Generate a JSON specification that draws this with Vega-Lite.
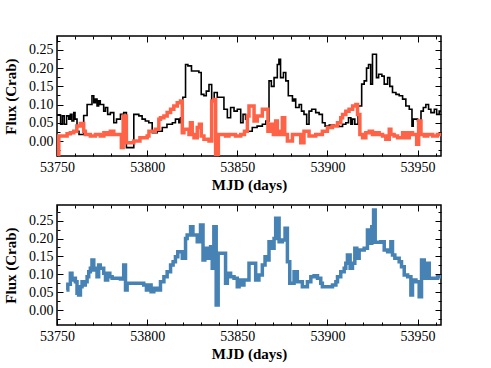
{
  "$schema": "https://vega.github.io/schema/vega-lite/v6.json",
  "padding": {"left": 2, "top": 32, "right": 5, "bottom": 2},
  "background": "white",
  "config": {
    "font": "Liberation Serif",
    "view": {"stroke": "black", "strokeWidth": 1.5},
    "axis": {
      "domain": false, "grid": false, "tickColor": "black", "tickWidth": 1,
      "labelColor": "black", "titleColor": "black",
      "labelFont": "Liberation Serif", "labelFontSize": 14,
      "titleFont": "Liberation Serif", "titleFontSize": 15, "titleFontWeight": "bold",
      "labelOverlap": false, "labelFlush": false, "labelBound": false
    }
  },
  "datasets": {
    "black": [
      {"d":53750,"v":0.071},{"d":53752,"v":0.046},{"d":53753,"v":0.069},{"d":53754,"v":0.046},{"d":53755.3,"v":0.069},{"d":53756.5,"v":0.06},{"d":53757.4,"v":0.073},{"d":53758.3,"v":0.055},{"d":53759.3,"v":0.078},{"d":53760,"v":0.06},{"d":53761.1,"v":0.027},{"d":53762.2,"v":0.018},{"d":53764.8,"v":0.07},{"d":53766.7,"v":0.1},{"d":53769.4,"v":0.124},{"d":53770.4,"v":0.105},{"d":53771.3,"v":0.115},{"d":53772.2,"v":0.096},{"d":53773.1,"v":0.11},{"d":53774,"v":0.1},{"d":53775.9,"v":0.082},{"d":53776.9,"v":0.092},{"d":53778.1,"v":0.073},{"d":53779.6,"v":0.078},{"d":53781.5,"v":0.05},{"d":53783,"v":0.06},{"d":53785.2,"v":0.073},{"d":53787,"v":0.078},{"d":53788.5,"v":-0.018},{"d":53792.6,"v":0.073},{"d":53795.4,"v":0.069},{"d":53797.2,"v":0.06},{"d":53799,"v":0.055},{"d":53800.9,"v":0.05},{"d":53802.8,"v":0.023},{"d":53805.6,"v":0.027},{"d":53808.4,"v":0.037},{"d":53811,"v":0.046},{"d":53814,"v":0.05},{"d":53815.7,"v":0.06},{"d":53817.6,"v":0.05},{"d":53818.5,"v":0.064},{"d":53819.8,"v":0.12},{"d":53821.3,"v":0.21},{"d":53822.6,"v":0.206},{"d":53824.6,"v":0.192},{"d":53828.7,"v":0.188},{"d":53830,"v":0.128},{"d":53831.5,"v":0.124},{"d":53832.8,"v":0.137},{"d":53834.3,"v":0.155},{"d":53835.8,"v":0.11},{"d":53837.2,"v":0.133},{"d":53838.9,"v":0.12},{"d":53842.6,"v":0.087},{"d":53844.5,"v":0.064},{"d":53846.3,"v":0.092},{"d":53848.2,"v":0.082},{"d":53850,"v":0.087},{"d":53851.9,"v":0.05},{"d":53853.2,"v":0.073},{"d":53854.6,"v":0.06},{"d":53855.6,"v":0.027},{"d":53858.3,"v":0.037},{"d":53861,"v":0.041},{"d":53863.9,"v":0.046},{"d":53865.8,"v":0.055},{"d":53867.6,"v":0.165},{"d":53868.9,"v":0.15},{"d":53870.4,"v":0.174},{"d":53872.2,"v":0.21},{"d":53873.1,"v":0.224},{"d":53874,"v":0.174},{"d":53875.6,"v":0.188},{"d":53876.9,"v":0.165},{"d":53878.3,"v":0.124},{"d":53880.6,"v":0.11},{"d":53881.5,"v":0.115},{"d":53882.4,"v":0.092},{"d":53884.3,"v":0.1},{"d":53885.6,"v":0.082},{"d":53887,"v":0.073},{"d":53888.5,"v":0.046},{"d":53889.8,"v":0.082},{"d":53891.3,"v":0.087},{"d":53893.5,"v":0.078},{"d":53895.4,"v":0.073},{"d":53897.2,"v":0.05},{"d":53898.7,"v":0.041},{"d":53901,"v":0.044},{"d":53903.7,"v":0.041},{"d":53906.5,"v":0.04},{"d":53908.4,"v":0.046},{"d":53910.2,"v":0.05},{"d":53911.7,"v":0.064},{"d":53913,"v":0.046},{"d":53913.9,"v":0.06},{"d":53915.2,"v":0.046},{"d":53917,"v":0.096},{"d":53919,"v":0.156},{"d":53920.4,"v":0.165},{"d":53921.7,"v":0.2},{"d":53922.8,"v":0.21},{"d":53924,"v":0.156},{"d":53925,"v":0.238},{"d":53927.2,"v":0.174},{"d":53928.4,"v":0.183},{"d":53930.2,"v":0.178},{"d":53931.5,"v":0.156},{"d":53933.4,"v":0.174},{"d":53934.6,"v":0.15},{"d":53936.1,"v":0.133},{"d":53938,"v":0.128},{"d":53939.8,"v":0.124},{"d":53941.7,"v":0.115},{"d":53943.5,"v":0.096},{"d":53945.4,"v":0.087},{"d":53946.9,"v":0.041},{"d":53947.6,"v":0.06},{"d":53950,"v":0.055},{"d":53951.9,"v":0.082},{"d":53953.2,"v":0.092},{"d":53954.6,"v":0.1},{"d":53956.1,"v":0.087},{"d":53957.4,"v":0.078},{"d":53959.3,"v":0.087},{"d":53960.6,"v":0.073},{"d":53962,"v":0.082},{"d":53963,"v":0.082}
    ],
    "red": [
      {"d":53750,"v":-0.045},{"d":53751,"v":0.014},{"d":53755.6,"v":0.02},{"d":53757.4,"v":0.023},{"d":53759.3,"v":0.027},{"d":53761,"v":0.041},{"d":53763,"v":0.048},{"d":53764.8,"v":0.027},{"d":53765.7,"v":0.018},{"d":53768.5,"v":0.014},{"d":53771.3,"v":0.018},{"d":53774,"v":0.014},{"d":53776,"v":0.023},{"d":53777.8,"v":0.018},{"d":53779.6,"v":0.027},{"d":53781.5,"v":0.018},{"d":53785.7,"v":-0.018},{"d":53786.7,"v":0.069},{"d":53788.5,"v":-0.005},{"d":53792.6,"v":0.0},{"d":53796,"v":0.009},{"d":53800,"v":0.014},{"d":53801,"v":0.027},{"d":53804.6,"v":0.032},{"d":53806.5,"v":0.06},{"d":53807.4,"v":0.064},{"d":53809.3,"v":0.069},{"d":53811.1,"v":0.078},{"d":53813,"v":0.087},{"d":53814.8,"v":0.096},{"d":53816.7,"v":0.105},{"d":53818.5,"v":0.11},{"d":53819.5,"v":0.023},{"d":53820.4,"v":0.032},{"d":53823.2,"v":0.018},{"d":53824,"v":0.05},{"d":53825,"v":0.018},{"d":53826,"v":0.009},{"d":53827.8,"v":0.037},{"d":53829,"v":0.046},{"d":53830,"v":0.014},{"d":53831.5,"v":0.005},{"d":53834.3,"v":0.0},{"d":53835.8,"v":0.11},{"d":53837,"v":0.114},{"d":53838,"v":-0.045},{"d":53839.5,"v":0.018},{"d":53843.5,"v":0.014},{"d":53845.4,"v":0.018},{"d":53849,"v":0.014},{"d":53851.9,"v":0.018},{"d":53854,"v":0.027},{"d":53855.6,"v":0.069},{"d":53856.5,"v":0.096},{"d":53859.3,"v":0.055},{"d":53861.1,"v":0.069},{"d":53863.9,"v":0.087},{"d":53867,"v":0.027},{"d":53868.5,"v":0.046},{"d":53870,"v":0.018},{"d":53871.3,"v":0.055},{"d":53872.2,"v":0.027},{"d":53873.2,"v":0.018},{"d":53875,"v":0.064},{"d":53876.3,"v":0.018},{"d":53877.8,"v":0.0},{"d":53880.6,"v":0.018},{"d":53885.2,"v":-0.005},{"d":53887,"v":0.027},{"d":53889.8,"v":0.014},{"d":53893.5,"v":0.018},{"d":53897.2,"v":0.027},{"d":53900,"v":0.037},{"d":53902.8,"v":0.041},{"d":53905.6,"v":0.05},{"d":53907.4,"v":0.064},{"d":53908.4,"v":0.073},{"d":53910.2,"v":0.082},{"d":53912,"v":0.087},{"d":53914,"v":0.096},{"d":53915.8,"v":0.1},{"d":53916.7,"v":0.073},{"d":53918,"v":0.018},{"d":53919.5,"v":0.009},{"d":53921.3,"v":0.023},{"d":53923.2,"v":0.027},{"d":53925,"v":0.018},{"d":53926.9,"v":0.023},{"d":53928.7,"v":0.018},{"d":53930.6,"v":0.014},{"d":53932.4,"v":0.005},{"d":53934.3,"v":0.032},{"d":53935.2,"v":0.018},{"d":53937,"v":0.014},{"d":53938.9,"v":0.009},{"d":53941.7,"v":0.023},{"d":53943.5,"v":0.009},{"d":53945.4,"v":0.023},{"d":53947.2,"v":0.018},{"d":53949.5,"v":-0.009},{"d":53950.6,"v":0.055},{"d":53951.9,"v":0.018},{"d":53953.7,"v":0.014},{"d":53955.6,"v":0.018},{"d":53958.4,"v":0.014},{"d":53961,"v":0.018},{"d":53963,"v":0.018}
    ],
    "blue": [
      {"d":53755.2,"v":0.056},{"d":53756,"v":0.072},{"d":53757.4,"v":0.103},{"d":53758.3,"v":0.084},{"d":53759.3,"v":0.089},{"d":53760.2,"v":0.079},{"d":53761.1,"v":0.047},{"d":53762,"v":0.042},{"d":53763,"v":0.065},{"d":53763.9,"v":0.079},{"d":53764.8,"v":0.07},{"d":53765.7,"v":0.079},{"d":53766.7,"v":0.093},{"d":53767.6,"v":0.107},{"d":53768.5,"v":0.117},{"d":53769.4,"v":0.14},{"d":53770.4,"v":0.112},{"d":53771.3,"v":0.117},{"d":53772.2,"v":0.093},{"d":53773.1,"v":0.126},{"d":53774,"v":0.117},{"d":53775.9,"v":0.103},{"d":53776.9,"v":0.084},{"d":53778.1,"v":0.103},{"d":53779.3,"v":0.093},{"d":53780.6,"v":0.089},{"d":53785.2,"v":0.087},{"d":53787,"v":0.126},{"d":53788,"v":0.056},{"d":53788.9,"v":0.075},{"d":53798.1,"v":0.07},{"d":53799.6,"v":0.056},{"d":53800.9,"v":0.07},{"d":53802.2,"v":0.051},{"d":53803.7,"v":0.061},{"d":53805.6,"v":0.056},{"d":53807.4,"v":0.079},{"d":53809.3,"v":0.093},{"d":53811.1,"v":0.107},{"d":53813,"v":0.126},{"d":53814.4,"v":0.135},{"d":53815.7,"v":0.149},{"d":53817,"v":0.163},{"d":53819.5,"v":0.145},{"d":53821.3,"v":0.2},{"d":53822.2,"v":0.21},{"d":53824.1,"v":0.233},{"d":53825.4,"v":0.21},{"d":53827.8,"v":0.191},{"d":53829.6,"v":0.238},{"d":53831,"v":0.14},{"d":53832,"v":0.173},{"d":53833.9,"v":0.145},{"d":53835.2,"v":0.177},{"d":53836.1,"v":0.117},{"d":53837,"v":0.233},{"d":53838.3,"v":0.014},{"d":53839.4,"v":0.159},{"d":53843.5,"v":0.075},{"d":53844.5,"v":0.103},{"d":53846.3,"v":0.093},{"d":53848.2,"v":0.089},{"d":53850,"v":0.065},{"d":53851,"v":0.084},{"d":53852.8,"v":0.07},{"d":53853.7,"v":0.084},{"d":53856.5,"v":0.131},{"d":53860.2,"v":0.084},{"d":53862,"v":0.098},{"d":53863.9,"v":0.126},{"d":53865.4,"v":0.149},{"d":53866.7,"v":0.14},{"d":53867.6,"v":0.191},{"d":53868.5,"v":0.173},{"d":53870.4,"v":0.2},{"d":53871.3,"v":0.257},{"d":53873.2,"v":0.191},{"d":53875,"v":0.196},{"d":53876.5,"v":0.229},{"d":53877.8,"v":0.135},{"d":53879.1,"v":0.075},{"d":53881.5,"v":0.107},{"d":53883.3,"v":0.079},{"d":53886.1,"v":0.065},{"d":53888.9,"v":0.079},{"d":53890.8,"v":0.093},{"d":53892.6,"v":0.096},{"d":53894.5,"v":0.089},{"d":53896.3,"v":0.075},{"d":53897.2,"v":0.065},{"d":53902.8,"v":0.07},{"d":53904.7,"v":0.079},{"d":53905.6,"v":0.093},{"d":53907.4,"v":0.107},{"d":53909.3,"v":0.117},{"d":53910.2,"v":0.131},{"d":53911.1,"v":0.154},{"d":53912.6,"v":0.117},{"d":53913.9,"v":0.131},{"d":53915.2,"v":0.173},{"d":53916.3,"v":0.145},{"d":53917.6,"v":0.168},{"d":53920.4,"v":0.173},{"d":53922.2,"v":0.224},{"d":53923.7,"v":0.187},{"d":53924.6,"v":0.233},{"d":53925.6,"v":0.28},{"d":53926.5,"v":0.19},{"d":53929.6,"v":0.191},{"d":53931.5,"v":0.168},{"d":53933.4,"v":0.163},{"d":53935.2,"v":0.191},{"d":53936.1,"v":0.154},{"d":53937.4,"v":0.145},{"d":53939.8,"v":0.135},{"d":53941.1,"v":0.121},{"d":53942.6,"v":0.098},{"d":53944.5,"v":0.093},{"d":53946.3,"v":0.042},{"d":53947.2,"v":0.084},{"d":53949.1,"v":0.079},{"d":53950.9,"v":0.037},{"d":53952.2,"v":0.14},{"d":53953.7,"v":0.089},{"d":53954.6,"v":0.131},{"d":53956.5,"v":0.089},{"d":53961.1,"v":0.093},{"d":53963,"v":0.093}
    ]
  },
  "vconcat": [
    {
      "width": 384, "height": 120,
      "resolve": {"axis": {"x": "independent", "y": "independent"}},
      "layer": [
        {
          "data": {"name": "black"},
          "mark": {"type": "line", "interpolate": "step-after", "color": "black", "strokeWidth": 1.6, "clip": true},
          "encoding": {
            "x": {"field": "d", "type": "quantitative", "scale": {"domain": [53750, 53963], "nice": false, "zero": false},
              "axis": {"orient": "bottom", "title": "MJD (days)", "format": "d",
                "values": [53750,53760,53770,53780,53790,53800,53810,53820,53830,53840,53850,53860,53870,53880,53890,53900,53910,53920,53930,53940,53950,53960],
                "labelExpr": "datum.value % 50 === 0 ? datum.label : ''",
                "tickSize": {"condition": {"test": "datum.value % 50 === 0", "value": -6}, "value": -3},
                "labelPadding": 10, "titlePadding": 0}},
            "y": {"field": "v", "type": "quantitative", "scale": {"domain": [-0.041, 0.288], "nice": false, "zero": false},
              "axis": {"orient": "left", "title": "Flux (Crab)", "format": ".2f",
                "values": [-0.025,0,0.025,0.05,0.075,0.1,0.125,0.15,0.175,0.2,0.225,0.25,0.275],
                "labelExpr": "abs(datum.value*20 - round(datum.value*20)) < 0.01 ? datum.label : ''",
                "tickSize": {"condition": {"test": "abs(datum.value*20 - round(datum.value*20)) < 0.01", "value": -6}, "value": -3},
                "labelPadding": 10, "titlePadding": 10}}
          }
        },
        {
          "data": {"name": "red"},
          "mark": {"type": "line", "interpolate": "step-after", "color": "#ff6347", "strokeWidth": 3.5, "clip": true},
          "encoding": {
            "x": {"field": "d", "type": "quantitative",
              "axis": {"orient": "top", "title": null, "labels": false,
                "values": [53750,53760,53770,53780,53790,53800,53810,53820,53830,53840,53850,53860,53870,53880,53890,53900,53910,53920,53930,53940,53950,53960],
                "tickSize": {"condition": {"test": "datum.value % 50 === 0", "value": -6}, "value": -3}}},
            "y": {"field": "v", "type": "quantitative",
              "axis": {"orient": "right", "title": null, "labels": false,
                "values": [-0.025,0,0.025,0.05,0.075,0.1,0.125,0.15,0.175,0.2,0.225,0.25,0.275],
                "tickSize": {"condition": {"test": "abs(datum.value*20 - round(datum.value*20)) < 0.01", "value": -6}, "value": -3}}}
          }
        }
      ]
    },
    {
      "width": 384, "height": 120,
      "resolve": {"axis": {"x": "independent", "y": "independent"}},
      "layer": [
        {
          "data": {"name": "blue"},
          "mark": {"type": "line", "interpolate": "step-after", "color": "#4682b4", "strokeWidth": 3.5, "clip": true},
          "encoding": {
            "x": {"field": "d", "type": "quantitative", "scale": {"domain": [53750, 53963], "nice": false, "zero": false},
              "axis": {"orient": "bottom", "title": "MJD (days)", "format": "d",
                "values": [53750,53760,53770,53780,53790,53800,53810,53820,53830,53840,53850,53860,53870,53880,53890,53900,53910,53920,53930,53940,53950,53960],
                "labelExpr": "datum.value % 50 === 0 ? datum.label : ''",
                "tickSize": {"condition": {"test": "datum.value % 50 === 0", "value": -6}, "value": -3},
                "labelPadding": 10, "titlePadding": 0}},
            "y": {"field": "v", "type": "quantitative", "scale": {"domain": [-0.042, 0.294], "nice": false, "zero": false},
              "axis": {"orient": "left", "title": "Flux (Crab)", "format": ".2f",
                "values": [-0.025,0,0.025,0.05,0.075,0.1,0.125,0.15,0.175,0.2,0.225,0.25,0.275],
                "labelExpr": "abs(datum.value*20 - round(datum.value*20)) < 0.01 ? datum.label : ''",
                "tickSize": {"condition": {"test": "abs(datum.value*20 - round(datum.value*20)) < 0.01", "value": -6}, "value": -3},
                "labelPadding": 10, "titlePadding": 10}}
          }
        },
        {
          "data": {"name": "blue"},
          "mark": {"type": "line", "interpolate": "step-after", "color": "#4682b4", "strokeWidth": 3.5, "clip": true, "opacity": 0},
          "encoding": {
            "x": {"field": "d", "type": "quantitative",
              "axis": {"orient": "top", "title": null, "labels": false,
                "values": [53750,53760,53770,53780,53790,53800,53810,53820,53830,53840,53850,53860,53870,53880,53890,53900,53910,53920,53930,53940,53950,53960],
                "tickSize": {"condition": {"test": "datum.value % 50 === 0", "value": -6}, "value": -3}}},
            "y": {"field": "v", "type": "quantitative",
              "axis": {"orient": "right", "title": null, "labels": false,
                "values": [-0.025,0,0.025,0.05,0.075,0.1,0.125,0.15,0.175,0.2,0.225,0.25,0.275],
                "tickSize": {"condition": {"test": "abs(datum.value*20 - round(datum.value*20)) < 0.01", "value": -6}, "value": -3}}}
          }
        }
      ]
    }
  ],
  "spacing": 10
}
